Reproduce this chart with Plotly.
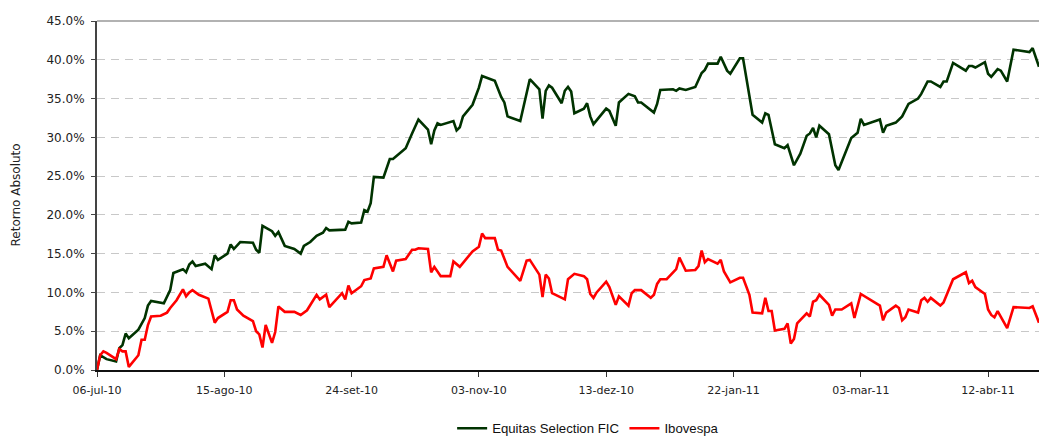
import pandas as pd
import plotly.graph_objects as go

start_date = "2010-07-06"

tick_dates = ["2010-07-06", "2010-08-15", "2010-09-24", "2010-11-03",
              "2010-12-13", "2011-01-22", "2011-03-03", "2011-04-12"]
tick_labels = ["06-jul-10", "15-ago-10", "24-set-10", "03-nov-10",
               "13-dez-10", "22-jan-11", "03-mar-11", "12-abr-11"]

y_ticks = [0, 5, 10, 15, 20, 25, 30, 35, 40, 45]
y_tick_labels = ["0.0%", "5.0%", "10.0%", "15.0%", "20.0%", "25.0%",
                 "30.0%", "35.0%", "40.0%", "45.0%"]

# days elapsed since start_date
equitas_days = [0, 1, 3, 6, 7, 8, 9, 10,
                13, 15, 16, 17, 21, 23, 24, 27, 28, 29, 30, 31,
                34, 36, 37, 38, 41, 42, 43, 44, 45, 49, 50, 51, 52,
                55, 56, 57, 59, 62, 64, 65, 67, 69, 71, 72, 73,
                78, 79, 80, 83, 84, 85, 86, 87, 90, 92, 93, 97, 99, 101,
                104, 105, 106, 107, 108, 112, 113, 114, 115, 118, 120, 121,
                125, 127, 128, 129, 133, 135, 136, 139, 140, 141, 142, 143,
                146, 147, 148, 149, 150, 153, 154, 155, 156, 160, 161, 163, 164,
                167, 169, 170, 171, 175, 176, 177, 181, 182, 183, 185, 188,
                190, 191, 192, 195, 196, 198, 199, 202, 203, 206, 209, 210, 211, 213,
                216, 217, 219, 221, 223, 224, 225, 226, 227, 230, 232, 233,
                237, 238, 239, 240, 241, 246, 247, 248, 251, 253, 255, 258, 259,
                261, 262, 265, 266, 267, 269, 273, 274, 275, 276, 279, 280, 281, 283, 284, 286, 288,
                293, 294, 295, 296]
equitas_vals = [0.0, 1.9, 1.4, 1.1, 2.8, 3.2, 4.7, 4.1,
                5.2, 6.7, 8.3, 8.9, 8.6, 10.3, 12.5, 13.0, 12.6, 13.6, 14.0, 13.4,
                13.7, 13.0, 14.8, 14.2, 15.0, 16.2, 15.6, 16.0, 16.5, 16.4, 15.5, 15.1, 18.6,
                17.9, 17.3, 17.8, 16.0, 15.6, 15.0, 16.0, 16.5, 17.3, 17.7, 18.3, 18.0,
                18.1, 19.1, 18.9, 19.0, 20.6, 20.4, 21.5, 24.9, 24.8, 27.2, 27.2, 28.6, 30.5, 32.3,
                31.0, 29.1, 30.9, 31.8, 31.6, 32.1, 30.9, 31.3, 32.7, 34.2, 36.4, 37.9,
                37.3, 35.2, 34.5, 32.7, 32.1, 36.0, 37.5, 36.2, 32.4, 36.0, 36.7, 36.4,
                34.4, 36.0, 36.5, 35.9, 33.1, 33.7, 34.4, 32.7, 31.7, 33.7, 33.4, 31.5, 34.5,
                35.6, 35.3, 34.5, 34.5, 33.2, 34.3, 36.1, 36.2, 36.0, 36.3, 36.1, 36.5,
                38.3, 38.7, 39.5, 39.5, 40.4, 38.6, 38.2, 40.2, 40.2, 32.9, 31.9, 33.1, 32.9, 29.1,
                28.6, 29.0, 26.4, 27.9, 30.2, 30.5, 31.2, 30.0, 31.5, 30.4, 26.4, 25.8,
                29.9, 30.2, 30.6, 32.4, 31.6, 32.3, 30.6, 31.5, 31.9, 32.7, 34.3, 35.0, 35.6,
                37.2, 37.2, 36.5, 37.2, 37.2, 39.6, 38.6, 39.2, 39.2, 39.0, 39.7, 38.2, 37.8, 38.8, 38.6, 37.2, 41.3,
                41.0, 41.5, 40.3, 39.1]

ibov_days = [0, 1, 2, 3, 6, 7, 8, 9, 10,
             13, 14, 15, 16, 17, 20, 22, 23, 25, 27, 28, 29, 30, 32, 34, 35,
             37, 38, 41, 42, 43, 44, 46, 49, 50, 51, 52, 53, 55, 56, 57, 59, 62, 64, 66,
             69, 70, 72, 73, 77, 78, 79, 80, 83, 84, 86, 87, 90, 91, 93, 94, 97, 99, 100, 101,
             104, 105, 106, 108, 111, 112, 114, 118, 120, 121, 122, 125, 126, 127, 129, 133, 135, 136,
             139, 140, 141, 142, 143, 147, 148, 150, 153, 154, 155, 156, 157,
             160, 161, 163, 164, 167, 168, 169, 171, 174, 175, 176, 177, 179,
             182, 183, 185, 188, 189, 190, 191, 192, 195, 196, 197, 199,
             202, 203, 205, 206, 209, 210, 211, 212, 213, 216, 217, 218, 219, 220,
             223, 224, 225, 226, 227, 230, 231, 232, 234, 237, 238, 240,
             246, 247, 248, 251, 252, 253, 254, 255, 258, 259, 260, 261, 262, 265, 266, 269,
             273, 274, 275, 276, 279, 280, 281, 282, 283, 286, 288, 293, 294, 296]
ibov_vals = [0.0, 1.9, 2.4, 2.2, 1.4, 2.7, 2.4, 2.4, 0.4,
             1.9, 3.9, 3.9, 5.8, 6.9, 7.0, 7.4, 8.0, 9.0, 10.4, 9.5, 10.0, 10.3, 9.7, 9.4, 9.2,
             6.1, 6.7, 7.5, 9.0, 9.0, 7.8, 7.0, 6.3, 5.0, 4.6, 2.9, 5.8, 3.5, 4.9, 8.2, 7.5, 7.5, 7.1, 7.7,
             9.7, 9.1, 9.7, 8.1, 9.9, 9.1, 10.9, 9.9, 10.8, 11.6, 11.8, 13.1, 13.3, 14.8, 12.7, 14.1, 14.3, 15.5, 15.5, 15.7,
             15.6, 12.6, 13.3, 12.1, 12.1, 14.0, 13.3, 15.3, 15.9, 17.6, 17.0, 17.0, 15.5, 15.4, 13.3, 11.5, 14.1, 14.2,
             12.3, 9.4, 12.3, 11.8, 9.9, 9.1, 11.7, 12.4, 12.1, 11.7, 9.8, 9.3, 10.0,
             11.4, 10.7, 8.4, 9.5, 8.3, 9.9, 10.3, 10.3, 9.3, 9.7, 11.1, 11.7, 11.7,
             13.0, 14.5, 12.8, 12.9, 13.4, 15.4, 13.9, 14.3, 13.7, 14.2, 12.7, 11.3,
             11.9, 11.9, 9.7, 7.4, 7.3, 9.3, 7.6, 7.6, 5.1, 5.3, 6.0, 3.4, 4.0, 6.0,
             7.3, 6.9, 8.8, 9.0, 9.7, 8.4, 7.0, 7.8, 7.8, 8.6, 6.7, 9.8,
             8.3, 6.4, 7.4, 8.3, 8.0, 6.4, 6.8, 7.8, 7.4, 9.0, 9.3, 8.8, 9.3, 8.3, 8.7, 11.7,
             12.6, 11.2, 11.5, 10.7, 9.8, 7.8, 7.1, 6.8, 7.6, 5.4, 8.1, 8.0, 8.2, 6.1]

x_end_day = 296

t0 = pd.Timestamp(start_date)
equitas_dates = [t0 + pd.Timedelta(days=d) for d in equitas_days]
ibov_dates = [t0 + pd.Timedelta(days=d) for d in ibov_days]

fig = go.Figure()
fig.add_trace(go.Scatter(x=equitas_dates, y=equitas_vals, mode="lines",
                         name="Equitas Selection FIC",
                         line=dict(color="#003300", width=2.6)))
fig.add_trace(go.Scatter(x=ibov_dates, y=ibov_vals, mode="lines",
                         name="Ibovespa",
                         line=dict(color="#FF0000", width=2.6)))

fig.update_layout(
    width=1039, height=437,
    margin=dict(l=97, r=0, t=21, b=67, autoexpand=False),
    paper_bgcolor="white", plot_bgcolor="white",
    showlegend=True,
    legend=dict(orientation="h", x=0.377, xanchor="left", y=-0.168, yanchor="middle",
                font=dict(family="Liberation Sans", size=13.2, color="#111111"),
                bgcolor="rgba(0,0,0,0)", itemwidth=30),
    xaxis=dict(
        type="date", automargin=False,
        range=[t0, t0 + pd.Timedelta(days=x_end_day)],
        tickvals=tick_dates, ticktext=tick_labels,
        showgrid=False, zeroline=False,
        showline=True, linecolor="#111111", linewidth=2,
        ticks="outside", ticklen=5, tickcolor="#333333", tickwidth=1,
        ticklabelstandoff=4,
        tickfont=dict(family="DejaVu Sans", size=11, color="#222222"),
    ),
    yaxis=dict(
        automargin=False,
        range=[0, 45], tickvals=y_ticks, ticktext=y_tick_labels,
        showgrid=True, gridcolor="#c8c8c8", gridwidth=1, griddash="8px,6px",
        zeroline=False,
        showline=True, linecolor="#444444", linewidth=2,
        ticks="outside", ticklen=4, tickcolor="#444444", tickwidth=1,
        ticklabelstandoff=4,
        tickfont=dict(family="DejaVu Sans", size=12, color="#222222"),
    ),
    annotations=[dict(text="Retorno Absoluto", xref="paper", yref="paper",
                      x=(15 - 97) / 942, y=0.5, xanchor="center", yanchor="middle",
                      textangle=-90, showarrow=False,
                      font=dict(family="DejaVu Sans", size=12, color="#222222"))],
    shapes=[dict(type="line", xref="paper", yref="paper", x0=0, x1=1, y0=1, y1=1,
                 line=dict(color="#999999", width=1.5))],
)

fig.write_html("out.html", config={"displayModeBar": False},
               post_script="document.body.style.margin='0px';")
